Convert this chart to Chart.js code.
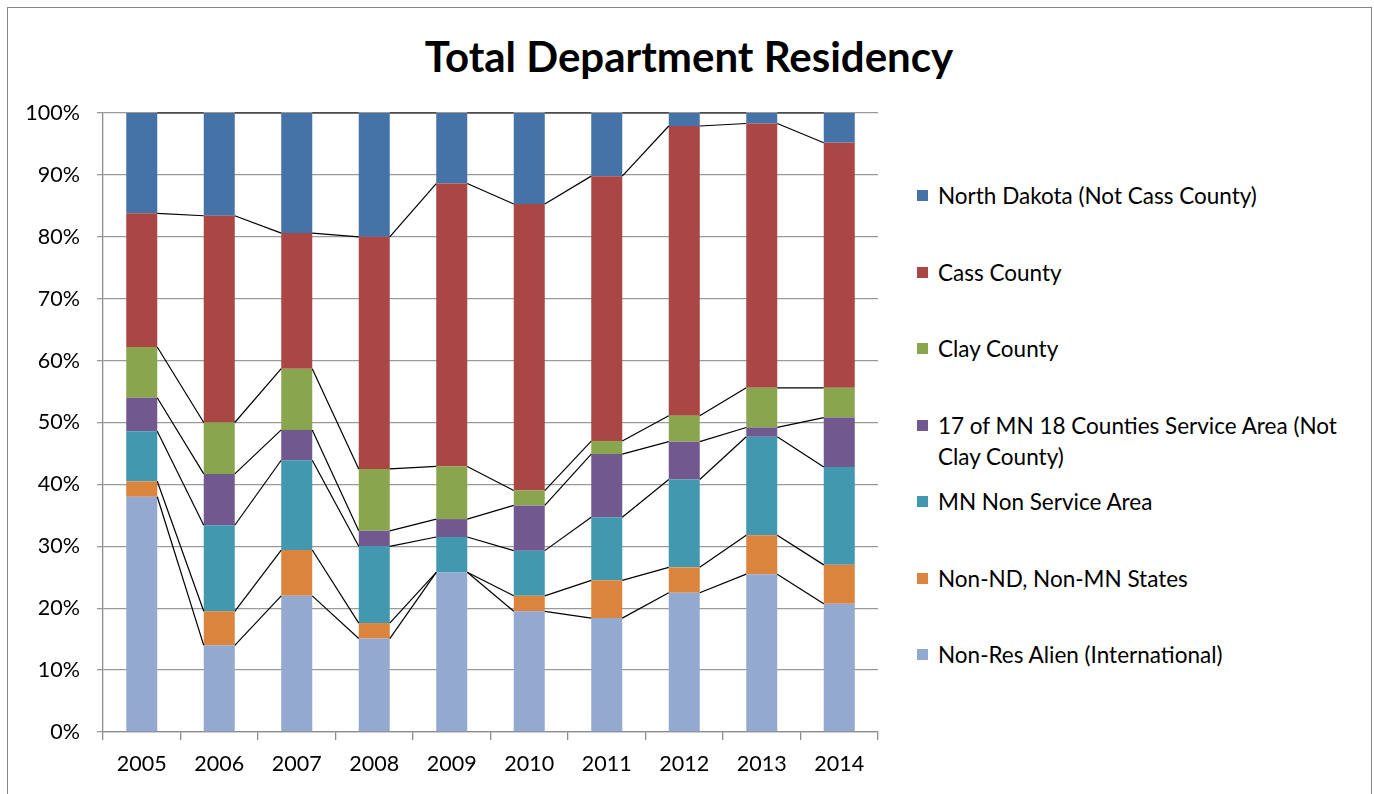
<!DOCTYPE html>
<html>
<head>
<meta charset="utf-8">
<script src="https://cdn.jsdelivr.net/npm/chart.js@4.4.0/dist/chart.umd.min.js"></script>
<style>
  body { margin: 0; background: #fff; font-family: 'Lato', sans-serif; }
  #page { position: relative; width: 1374px; height: 794px; overflow: hidden; }
  #frame { position: absolute; left: 7px; top: 7px; width: 1363px; height: 800px; border: 1px solid #868686; }
  #title { position: absolute; left: 0; width: 1378px; top: 28px; height: 56px; line-height: 56px;
           text-align: center; font-weight: bold; font-size: 42px; color: #000; }
  #box { position: absolute; left: 0; top: 0; width: 900px; height: 794px; }
  .item { position: absolute; left: 917px; width: 440px; font-size: 22.5px; line-height: 31px; color: #000; }
  .item .sw { position: absolute; left: 0; top: 10px; width: 11px; height: 11px; }
  .item .tx { position: absolute; left: 21px; top: 0; width: 415px; }
</style>
</head>
<body>
<div id="page">
  <div id="frame"></div>
  <div id="title">Total Department Residency</div>
  <div id="box"><canvas id="chart"></canvas></div>
  <div id="legend"></div>
</div>
<script>
// data (percent of each year)
var years = ['2005', '2006', '2007', '2008', '2009', '2010', '2011', '2012', '2013', '2014'];
var nonResAlien  = [38.0, 14.0, 22.0, 15.1, 25.8, 19.5, 18.4, 22.5, 25.5, 20.7];
var nonNdNonMn   = [2.5, 5.5, 7.4, 2.5, 0, 2.5, 6.1, 4.1, 6.3, 6.3];
var mnNonService = [8.1, 13.9, 14.5, 12.4, 5.7, 7.3, 10.2, 14.2, 15.9, 15.8];
var mn17         = [5.4, 8.3, 4.9, 2.5, 2.9, 7.3, 10.2, 6.1, 1.5, 8.0];
var clayCounty   = [8.2, 8.3, 9.9, 10.0, 8.5, 2.4, 2.1, 4.2, 6.4, 4.8];
var cassCounty   = [21.6, 33.4, 21.9, 37.5, 45.7, 46.3, 42.8, 46.8, 42.7, 39.6];
var northDakota  = [16.2, 16.6, 19.4, 20.0, 11.4, 14.7, 10.2, 2.1, 1.7, 4.8];
var yTicks = [0, 10, 20, 30, 40, 50, 60, 70, 80, 90, 100];

var series = [
  { label: 'Non-Res Alien (International)', data: nonResAlien, color: '#93A9CF' },
  { label: 'Non-ND, Non-MN States', data: nonNdNonMn, color: '#DB843D' },
  { label: 'MN Non Service Area', data: mnNonService, color: '#4198AF' },
  { label: '17 of MN 18 Counties Service Area (Not Clay County)', data: mn17, color: '#71588F' },
  { label: 'Clay County', data: clayCounty, color: '#89A54E' },
  { label: 'Cass County', data: cassCounty, color: '#AA4643' },
  { label: 'North Dakota (Not Cass County)', data: northDakota, color: '#4572A7' }
];

Chart.defaults.font.family = 'Lato';
Chart.defaults.color = '#000';

// excel style series lines between the stacked bars
var seriesLines = {
  id: 'seriesLines',
  afterDatasetsDraw: function(chart) {
    var ctx = chart.ctx;
    ctx.save();
    ctx.strokeStyle = '#000';
    ctx.lineWidth = 1.2;
    chart.data.datasets.forEach(function(ds, d) {
      var bars = chart.getDatasetMeta(d).data;
      for (var i = 0; i < bars.length - 1; i++) {
        var a = bars[i], b = bars[i + 1];
        ctx.beginPath();
        ctx.moveTo(a.x + a.width / 2, a.y);
        ctx.lineTo(b.x - b.width / 2, b.y);
        ctx.stroke();
      }
    });
    ctx.restore();
  }
};

var data = {
  labels: years,
  datasets: series.map(function(s) {
    return {
      label: s.label,
      data: s.data,
      backgroundColor: s.color,
      borderWidth: 0,
      barPercentage: 0.4,
      categoryPercentage: 1
    };
  })
};

var config = {
  type: 'bar',
  data: data,
  options: {
    responsive: true,
    maintainAspectRatio: false,
    animation: false,
    layout: { padding: { left: 20, right: 22, top: 113, bottom: 12 } },
    plugins: { legend: { display: false }, tooltip: { enabled: false } },
    scales: {
      x: {
        stacked: true,
        afterFit: function(scale) { scale.height = 50; },
        grid: { drawOnChartArea: false, drawTicks: true, tickLength: 8, color: '#8c8c8c', lineWidth: 1.3 },
        border: { color: '#8c8c8c', width: 1.3 },
        ticks: { font: { size: 21.5 }, padding: 11 }
      },
      y: {
        stacked: true,
        min: 0,
        max: 100,
        afterFit: function(scale) { scale.width = 83; },
        afterBuildTicks: function(scale) { scale.ticks = yTicks.map(function(v) { return { value: v }; }); },
        grid: { color: '#9a9a9a', lineWidth: 1.3, tickLength: 6 },
        border: { color: '#8c8c8c', width: 1.3 },
        ticks: { font: { size: 21.5 }, padding: 17, callback: function(v) { return v + '%'; } }
      }
    }
  },
  plugins: [seriesLines]
};

var myChart = new Chart(document.getElementById('chart'), config);

// legend, top entry first
var legend = document.getElementById('legend');
var legendTop = 180;
series.slice().reverse().forEach(function(s, i) {
  var item = document.createElement('div');
  item.className = 'item';
  item.style.top = (legendTop + i * 76.5) + 'px';
  item.innerHTML = '<div class="sw" style="background:' + s.color + '"></div><div class="tx"></div>';
  item.querySelector('.tx').textContent = s.label;
  legend.appendChild(item);
});
</script>
</body>
</html>
